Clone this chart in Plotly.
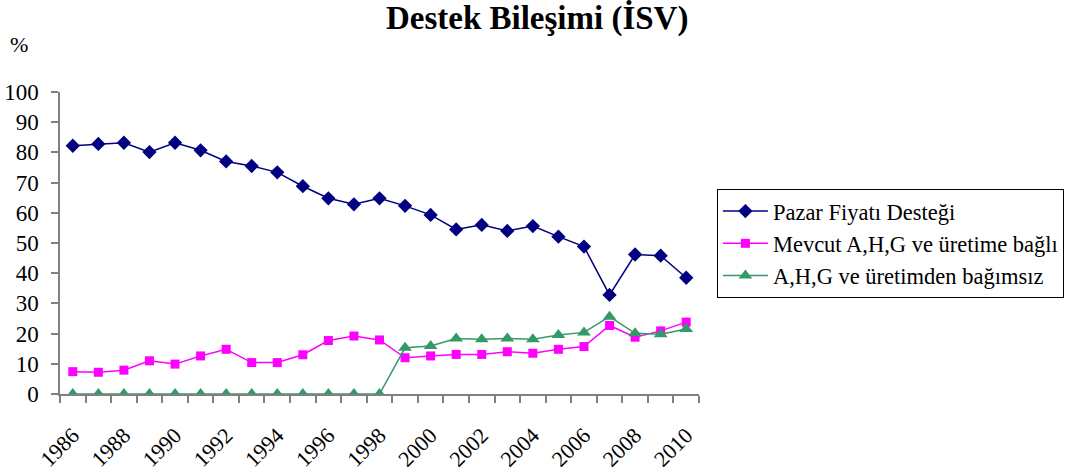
import plotly.graph_objects as go

years = list(range(1986, 2011))
pazar = [82.2, 82.8, 83.2, 80.1, 83.2, 80.7, 77.0, 75.5, 73.4, 68.8, 64.8, 62.8, 64.8,
         62.3, 59.3, 54.5, 56.0, 54.0, 55.6, 52.1, 48.8, 32.8, 46.2, 45.8, 38.5]
mevcut = [7.4, 7.2, 7.9, 11.0, 9.9, 12.6, 14.8, 10.4, 10.4, 13.0, 17.7, 19.2, 17.9,
          12.0, 12.6, 13.1, 13.1, 14.0, 13.5, 14.8, 15.7, 22.7, 18.8, 20.9, 23.8]
bagimsiz = [0, 0, 0, 0, 0, 0, 0, 0, 0, 0, 0, 0, 0,
            15.3, 15.9, 18.4, 18.1, 18.4, 18.1, 19.5, 20.4, 25.6, 20.1, 19.8, 21.5]
names = ["Pazar Fiyatı Desteği", "Mevcut A,H,G ve üretime bağlı", "A,H,G ve üretimden bağımsız"]
tick_years = list(range(1986, 2011, 2))
yticks = list(range(0, 101, 10))

FONT = "Liberation Serif, Times New Roman, serif"

fig = go.Figure()
fig.add_trace(go.Scatter(x=years, y=pazar, name=names[0], mode="lines+markers",
                         line=dict(color="#000080", width=1.5),
                         marker=dict(symbol="diamond", size=11, color="#000080")))
fig.add_trace(go.Scatter(x=years, y=mevcut, name=names[1], mode="lines+markers",
                         line=dict(color="#FF00FF", width=1.5),
                         marker=dict(symbol="square", size=9, color="#FF00FF")))
fig.add_trace(go.Scatter(x=years, y=bagimsiz, name=names[2], mode="lines+markers",
                         line=dict(color="#339966", width=1.5),
                         marker=dict(symbol="triangle-up", size=12, color="#339966")))

fig.update_layout(
    width=1068, height=472,
    paper_bgcolor="white", plot_bgcolor="white",
    margin=dict(l=60, r=369, t=92, b=78, autoexpand=False),
    font=dict(family=FONT, color="black", size=20),
    title=dict(text="<b>Destek Bileşimi (İSV)</b>", x=0.503, xanchor="center",
               y=0.962, yanchor="middle", font=dict(family=FONT, size=33, color="black")),
    legend=dict(x=1.028, y=0.679, xanchor="left", yanchor="top",
                bordercolor="black", borderwidth=1, bgcolor="white", itemwidth=45,
                font=dict(family=FONT, size=22.5), tracegroupgap=0),
    annotations=[dict(text="%", xref="paper", yref="paper", x=-0.064, y=1.157,
                      xanchor="center", yanchor="middle", showarrow=False,
                      font=dict(family=FONT, size=22))],
)
fig.update_xaxes(range=[1985.5, 2010.5], tickmode="array", tickvals=tick_years,
                 ticktext=[str(y) for y in tick_years], tickangle=-45,
                 automargin=False,
                 showgrid=False, zeroline=False, showline=True, linecolor="#808080",
                 linewidth=1.5, ticks="", ticklabelstandoff=18, ticklabelshift=0,
                 minor=dict(tickmode="array", tickvals=[y - 0.5 for y in years] + [2010.5],
                            ticks="outside", ticklen=7, tickcolor="#808080", tickwidth=1.5,
                            showgrid=False),
                 tickfont=dict(family=FONT, size=22))
fig.update_yaxes(range=[0, 100], tickmode="array", tickvals=yticks,
                 automargin=False,
                 showgrid=False, zeroline=False, showline=True, linecolor="#808080",
                 linewidth=1.5, ticks="outside", ticklen=7, tickcolor="#808080",
                 tickwidth=1.5, ticklabelstandoff=8, tickfont=dict(family=FONT, size=23))

fig.write_html("out.html", config={"displayModeBar": False},
               post_script="document.body.style.margin='0px';")
